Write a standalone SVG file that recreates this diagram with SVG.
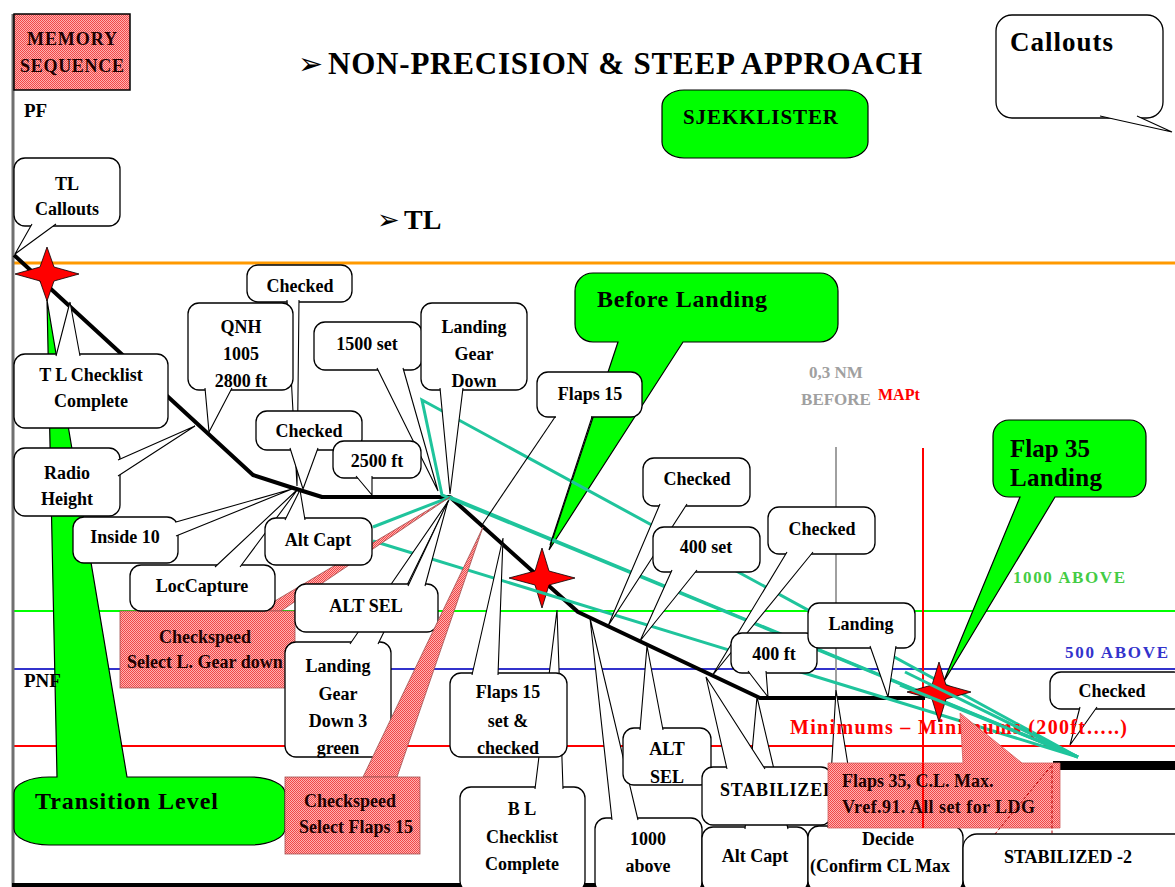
<svg xmlns="http://www.w3.org/2000/svg" width="1175" height="887" viewBox="0 0 1175 887">
<defs>
<pattern id="h" width="2" height="2" patternUnits="userSpaceOnUse"><rect width="2" height="2" fill="#ffb0b0"/><rect width="1" height="1" fill="#f04848"/><rect x="1" y="1" width="1" height="1" fill="#f04848"/></pattern>
<style>
.bx{fill:#fff;stroke:#000;stroke-width:1.3}
.p{fill:#fff;stroke:#000;stroke-width:1.1;stroke-linejoin:miter}
.ln{fill:none;stroke:#000;stroke-width:1.1}
.t{font-family:"Liberation Serif","Times New Roman",serif;font-weight:bold;font-size:18px;text-anchor:middle;fill:#000}
.ts{font-family:"Liberation Serif","Times New Roman",serif;font-weight:bold;font-size:18px;fill:#000}
.tr{font-family:"Liberation Serif","Times New Roman",serif;font-weight:bold;font-size:18px;fill:#200000}
.g{fill:#00ff00;stroke:#000;stroke-width:1.2}
.hz{fill:url(#h);stroke:#a05050;stroke-width:0.8}
.teal{fill:none;stroke:#1fc49c;stroke-width:3;stroke-linejoin:miter}
.star{fill:#ff0000;stroke:#000;stroke-width:0.8}
</style>
</defs>
<rect width="1175" height="887" fill="#fff"/>

<g id="guides">
<line x1="14" y1="263" x2="1175" y2="263" stroke="#ff9900" stroke-width="3"/>
<line x1="14" y1="611" x2="1175" y2="611" stroke="#00ff00" stroke-width="2"/>
<line x1="14" y1="669" x2="1175" y2="669" stroke="#3333cc" stroke-width="2"/>
<line x1="14" y1="746" x2="1175" y2="746" stroke="#ff0000" stroke-width="2"/>
<line x1="836" y1="447" x2="836" y2="760" stroke="#a0a0a0" stroke-width="2"/>
<line x1="923" y1="448" x2="923" y2="828" stroke="#ff0000" stroke-width="2"/>
<line x1="13" y1="14" x2="13" y2="887" stroke="#707070" stroke-width="3"/>
<line x1="12" y1="885" x2="1175" y2="885" stroke="#000" stroke-width="4"/>
</g>

<g id="transition-level">
<path class="g" d="M57,777 L47,300 L127,777 L250,777 A35 16 0 0 1 285,793 L285,829 A35 16 0 0 1 250,845 L49,845 A35 16 0 0 1 14,829 L14,793 A35 16 0 0 1 49,777 Z"/>
<text x="35" y="809" font-family="Liberation Serif, serif" font-weight="bold" font-size="24" textLength="183">Transition Level</text>
</g>

<g id="before-landing">
<path class="g" d="M593,273 L820,273 A18 18 0 0 1 838,291 L838,324 A18 18 0 0 1 820,342 L683,342 L549,550 L618,342 L593,342 A18 18 0 0 1 575,324 L575,291 A18 18 0 0 1 593,273 Z"/>
<text x="597" y="307" font-family="Liberation Serif, serif" font-weight="bold" font-size="24" textLength="170">Before Landing</text>
</g>

<g id="flap35-landing">
<path class="g" d="M1009,420 L1130,420 A16 16 0 0 1 1146,436 L1146,481 A16 16 0 0 1 1130,497 L1055,497 L943,683 L1020,497 L1009,497 A16 16 0 0 1 993,481 L993,436 A16 16 0 0 1 1009,420 Z"/>
<text x="1010" y="457" font-family="Liberation Serif, serif" font-weight="bold" font-size="25" textLength="80">Flap 35</text>
<text x="1010" y="486" font-family="Liberation Serif, serif" font-weight="bold" font-size="25" textLength="92">Landing</text>
</g>

<g id="sjekklister">
<rect x="662" y="90" width="206" height="68" rx="22" ry="16" class="g"/>
<text x="683" y="124" font-family="Liberation Serif, serif" font-weight="bold" font-size="21" textLength="155">SJEKKLISTER</text>
</g>

<g id="flight-path">
<polyline points="14,255 253,475 290,487 322,497 450,497 578,612 760,698 925,698" fill="none" stroke="#000" stroke-width="4" stroke-linejoin="round"/>
<rect x="1053" y="761" width="122" height="9" fill="#000"/>
</g>

<g id="stars-12">
<polygon class="star" transform="translate(47,274)" points="0,-27 7,-7 32,0 7,7 0,27 -7,7 -32,0 -7,-7"/>
<polygon class="star" transform="translate(542,578)" points="0,-30 7,-7 33,0 7,7 0,30 -7,7 -33,0 -7,-7"/>
</g>

<g id="teal-wedges">
<polygon class="teal" points="422,400 1078,757 442,495"/>
<polyline class="teal" points="373,527 450,497 1078,757 373,541"/>
</g>

<g id="checkspeed-gear">
<polygon class="hz" points="258,611 450,497 281,611"/>
<rect x="120" y="611" width="175" height="77" class="hz"/>
<text class="tr" x="205" y="643" text-anchor="middle">Checkspeed</text>
<text class="tr" x="127" y="668">Select L. Gear down</text>
</g>

<g id="connectors">
<g id="c-tl-callouts"><rect class="bx" x="14" y="158" width="106" height="68" rx="11"/><polyline class="p" points="32,224 15,254 56,224"/><text class="t" x="67" y="190">TL</text><text class="t" x="67" y="215">Callouts</text></g>
<g id="c-checked-top"><rect class="bx" x="247" y="265" width="105" height="37" rx="11"/><polyline class="p" points="287,300 297,486 299,300"/><text class="t" x="300" y="292">Checked</text></g>
<g id="c-qnh"><rect class="bx" x="188" y="303" width="105" height="87" rx="11"/><polyline class="p" points="205,388 209,432 232,388"/><text class="t" x="241" y="333">QNH</text><text class="t" x="241" y="360">1005</text><text class="t" x="241" y="387">2800 ft</text></g>
<g id="c-tl-checklist"><rect class="bx" x="14" y="354" width="154" height="74" rx="11"/><polyline class="p" points="56,356 70,302 80,356"/><text class="t" x="91" y="381">T L Checklist</text><text class="t" x="91" y="407">Complete</text></g>
<g id="c-radio-height"><rect class="bx" x="14" y="448" width="106" height="68" rx="11"/><polyline class="p" points="118,460 195,426 118,476"/><text class="t" x="67" y="479">Radio</text><text class="t" x="67" y="505">Height</text></g>
<g id="c-inside10"><rect class="bx" x="73" y="517" width="105" height="46" rx="11"/><polyline class="p" points="176,522 292,489 176,536"/><text class="t" x="125" y="543">Inside 10</text></g>
<g id="c-1500"><rect class="bx" x="314" y="322" width="108" height="48" rx="11"/><polyline class="p" points="377,368 438,491 403,368"/><text class="t" x="367" y="350">1500 set</text></g>
<g id="c-lgd"><rect class="bx" x="421" y="303" width="106" height="87" rx="11"/><polyline class="p" points="440,388 450,494 463,388"/><text class="t" x="474" y="333">Landing</text><text class="t" x="474" y="360">Gear</text><text class="t" x="474" y="387">Down</text></g>
<g id="c-checked2"><rect class="bx" x="256" y="411" width="106" height="39" rx="11"/><polyline class="p" points="290,448 303,489 318,448"/><text class="t" x="309" y="437">Checked</text></g>
<g id="c-2500"><rect class="bx" x="333" y="441" width="88" height="37" rx="11"/><polyline class="p" points="356,476 372,495 372,476"/><text class="t" x="377" y="467">2500 ft</text></g>
<g id="c-loccapture"><rect class="bx" x="130" y="565" width="145" height="46" rx="11"/><polyline class="p" points="215,567 298,489 240,567"/><text class="t" x="202" y="592">LocCapture</text></g>
<g id="c-altcapt"><rect class="bx" x="265" y="518" width="107" height="47" rx="11"/><polyline class="p" points="285,520 300,490 305,520"/><text class="t" x="318" y="546">Alt Capt</text></g>
<g id="c-lgd3"><rect class="bx" x="285" y="642" width="106" height="115" rx="11"/><polyline class="p" points="350,644 449,500 378,644"/><text class="t" x="338" y="672">Landing</text><text class="t" x="338" y="700">Gear</text><text class="t" x="338" y="727">Down 3</text><text class="t" x="338" y="754">green</text></g>
<g id="c-altsel"><rect class="bx" x="295" y="584" width="143" height="48" rx="11"/><polyline class="p" points="408,586 448,501 425,586"/><text class="t" x="366" y="612">ALT SEL</text></g>
<g id="c-bl"><rect class="bx" x="460" y="787" width="125" height="105" rx="11"/><polyline class="p" points="535,789 557,610 563,789"/><text class="t" x="522" y="815">B L</text><text class="t" x="522" y="843">Checklist</text><text class="t" x="522" y="870">Complete</text></g>
<g id="c-flaps15set"><rect class="bx" x="450" y="673" width="117" height="84" rx="11"/><polyline class="p" points="472,675 503,538 498,675"/><text class="t" x="508" y="698">Flaps 15</text><text class="t" x="508" y="727">set &amp;</text><text class="t" x="508" y="754">checked</text></g>
<g id="c-1000above"><rect class="bx" x="595" y="818" width="107" height="75" rx="11"/><polyline class="p" points="612,820 590,618 638,820"/><text class="t" x="648" y="845">1000</text><text class="t" x="648" y="872">above</text></g>
<g id="c-altsel2"><rect class="bx" x="623" y="728" width="88" height="57" rx="11"/><polyline class="p" points="640,730 647,646 663,730"/><text class="t" x="667" y="755">ALT</text><text class="t" x="667" y="783">SEL</text></g>
<g id="c-altcapt2"><rect class="bx" x="702" y="827" width="106" height="65" rx="11"/><polyline class="p" points="745,829 757,697 788,829"/><text class="t" x="755" y="862">Alt Capt</text></g>
<g id="c-stabilized"><rect class="bx" x="702" y="767" width="130" height="58" rx="11"/><polyline class="p" points="727,769 706,677 765,769"/><text class="ts" x="720" y="796" textLength="116">STABILIZED</text></g>
<g id="c-decide"><rect class="bx" x="808" y="826" width="155" height="66" rx="11"/><polyline class="p" points="828,828 836,690 858,828"/><text class="t" x="888" y="845">Decide</text><text class="ts" x="810" y="872">(Confirm CL Max</text></g>
<g id="c-checked-m1"><rect class="bx" x="643" y="458" width="107" height="48" rx="11"/><polyline class="p" points="660,504 608,626 687,504"/><text class="t" x="697" y="485">Checked</text></g>
<g id="c-400set"><rect class="bx" x="653" y="527" width="107" height="45" rx="11"/><polyline class="p" points="672,570 640,641 697,570"/><text class="t" x="706" y="553">400 set</text></g>
<g id="c-checked-m2"><rect class="bx" x="768" y="507" width="107" height="47" rx="11"/><polyline class="p" points="787,552 712,676 813,552"/><text class="t" x="822" y="535">Checked</text></g>
<g id="c-400ft"><rect class="bx" x="731" y="633" width="86" height="40" rx="11"/><polyline class="p" points="748,671 768,697 766,671"/><text class="t" x="774" y="660">400 ft</text></g>
<g id="c-landing"><rect class="bx" x="808" y="603" width="107" height="45" rx="11"/><polyline class="p" points="870,646 888,697 896,646"/><text class="t" x="861" y="630">Landing</text></g>
<g id="c-checked-r"><rect class="bx" x="1050" y="672" width="135" height="37" rx="11"/><polyline class="p" points="1080,707 1070,745 1097,707"/><text class="t" x="1112" y="697">Checked</text></g>
<g id="c-flaps15"><rect class="bx" x="537" y="372" width="105" height="45" rx="11"/><line x1="556" y1="417" x2="591" y2="417" stroke="#fff" stroke-width="3"/><line class="ln" x1="555" y1="417" x2="482" y2="525"/><line class="ln" x1="592" y1="417" x2="550" y2="545"/><text class="t" x="590" y="400">Flaps 15</text></g>
</g>

<g id="checkspeed-flaps">
<polygon class="hz" points="483,527 363,777 397,777"/>
<rect x="285" y="777" width="135" height="77" class="hz"/>
<text class="tr" x="350" y="807" text-anchor="middle">Checkspeed</text>
<text class="tr" x="356" y="833" text-anchor="middle">Select Flaps 15</text>
</g>

<text x="790" y="734" font-family="Liberation Serif, serif" font-weight="bold" font-size="20" fill="#ff0000" textLength="337">Minimums – Minimums (200ft…..)</text>

<g id="flaps35-box">
<path d="M828,763 L963,763 L960,713 L1022,763 L1060,763 L1060,828 L828,828 Z" fill="url(#h)" stroke="#d06060" stroke-width="0.8"/>
<line x1="923" y1="763" x2="923" y2="828" stroke="#ff0000" stroke-width="2"/>
<text class="tr" x="842" y="787">Flaps 35, C.L. Max.</text>
<text class="tr" x="842" y="813" textLength="193">Vref.91. All set for LDG</text>
<polyline points="995,834 1052,765 1052,834" fill="none" stroke="#b00000" stroke-width="1" stroke-dasharray="3,2"/>
</g>

<g id="star-3">
<polygon class="star" transform="translate(939,692)" points="0,-30 7,-7 32,0 7,7 0,30 -7,7 -32,0 -7,-7"/>
<line x1="905" y1="672" x2="1078" y2="757" stroke="#1fc49c" stroke-width="3"/>
<line x1="900" y1="685" x2="1078" y2="757" stroke="#1fc49c" stroke-width="3"/>
</g>

<g id="c-stabilized2">
<rect class="bx" x="963" y="834" width="230" height="60" rx="14"/>
<text class="t" x="1068" y="863">STABILIZED -2</text>
</g>

<g id="callouts-legend">
<rect class="bx" x="996" y="15" width="167" height="103" rx="16"/>
<polyline class="p" points="1100,116 1172,132 1137,116"/>
<text x="1010" y="51" font-family="Liberation Serif, serif" font-weight="bold" font-size="27" textLength="103">Callouts</text>
</g>

<g id="memory">
<rect x="14" y="14" width="116" height="76" fill="url(#h)" stroke="#000" stroke-width="1.5"/>
<text class="tr" x="72" y="45" text-anchor="middle" textLength="90">MEMORY</text>
<text class="tr" x="72" y="72" text-anchor="middle" textLength="104">SEQUENCE</text>
</g>

<g id="labels">
<text x="298" y="74" font-family="DejaVu Sans, sans-serif" font-size="30">➢</text>
<text x="328" y="74" font-family="Liberation Serif, serif" font-weight="bold" font-size="31" textLength="594">NON-PRECISION &amp; STEEP APPROACH</text>
<text x="377" y="229" font-family="DejaVu Sans, sans-serif" font-size="27">➢</text>
<text x="404" y="229" font-family="Liberation Serif, serif" font-weight="bold" font-size="28">TL</text>
<text x="24" y="117" font-family="Liberation Serif, serif" font-weight="bold" font-size="19">PF</text>
<text x="24" y="687" font-family="Liberation Serif, serif" font-weight="bold" font-size="19">PNF</text>
<text x="836" y="378" text-anchor="middle" font-family="Liberation Serif, serif" font-weight="bold" font-size="17" fill="#a0a0a0">0,3 NM</text>
<text x="836" y="405" text-anchor="middle" font-family="Liberation Serif, serif" font-weight="bold" font-size="17" fill="#a0a0a0">BEFORE</text>
<text x="878" y="400" font-family="Liberation Serif, serif" font-weight="bold" font-size="16" fill="#ff0000">MAPt</text>
<text x="1013" y="583" font-family="Liberation Serif, serif" font-weight="bold" font-size="17" fill="#44cc44" textLength="112">1000 ABOVE</text>
<text x="1065" y="658" font-family="Liberation Serif, serif" font-weight="bold" font-size="17" fill="#3333cc" textLength="103">500 ABOVE</text>
</g>
</svg>
